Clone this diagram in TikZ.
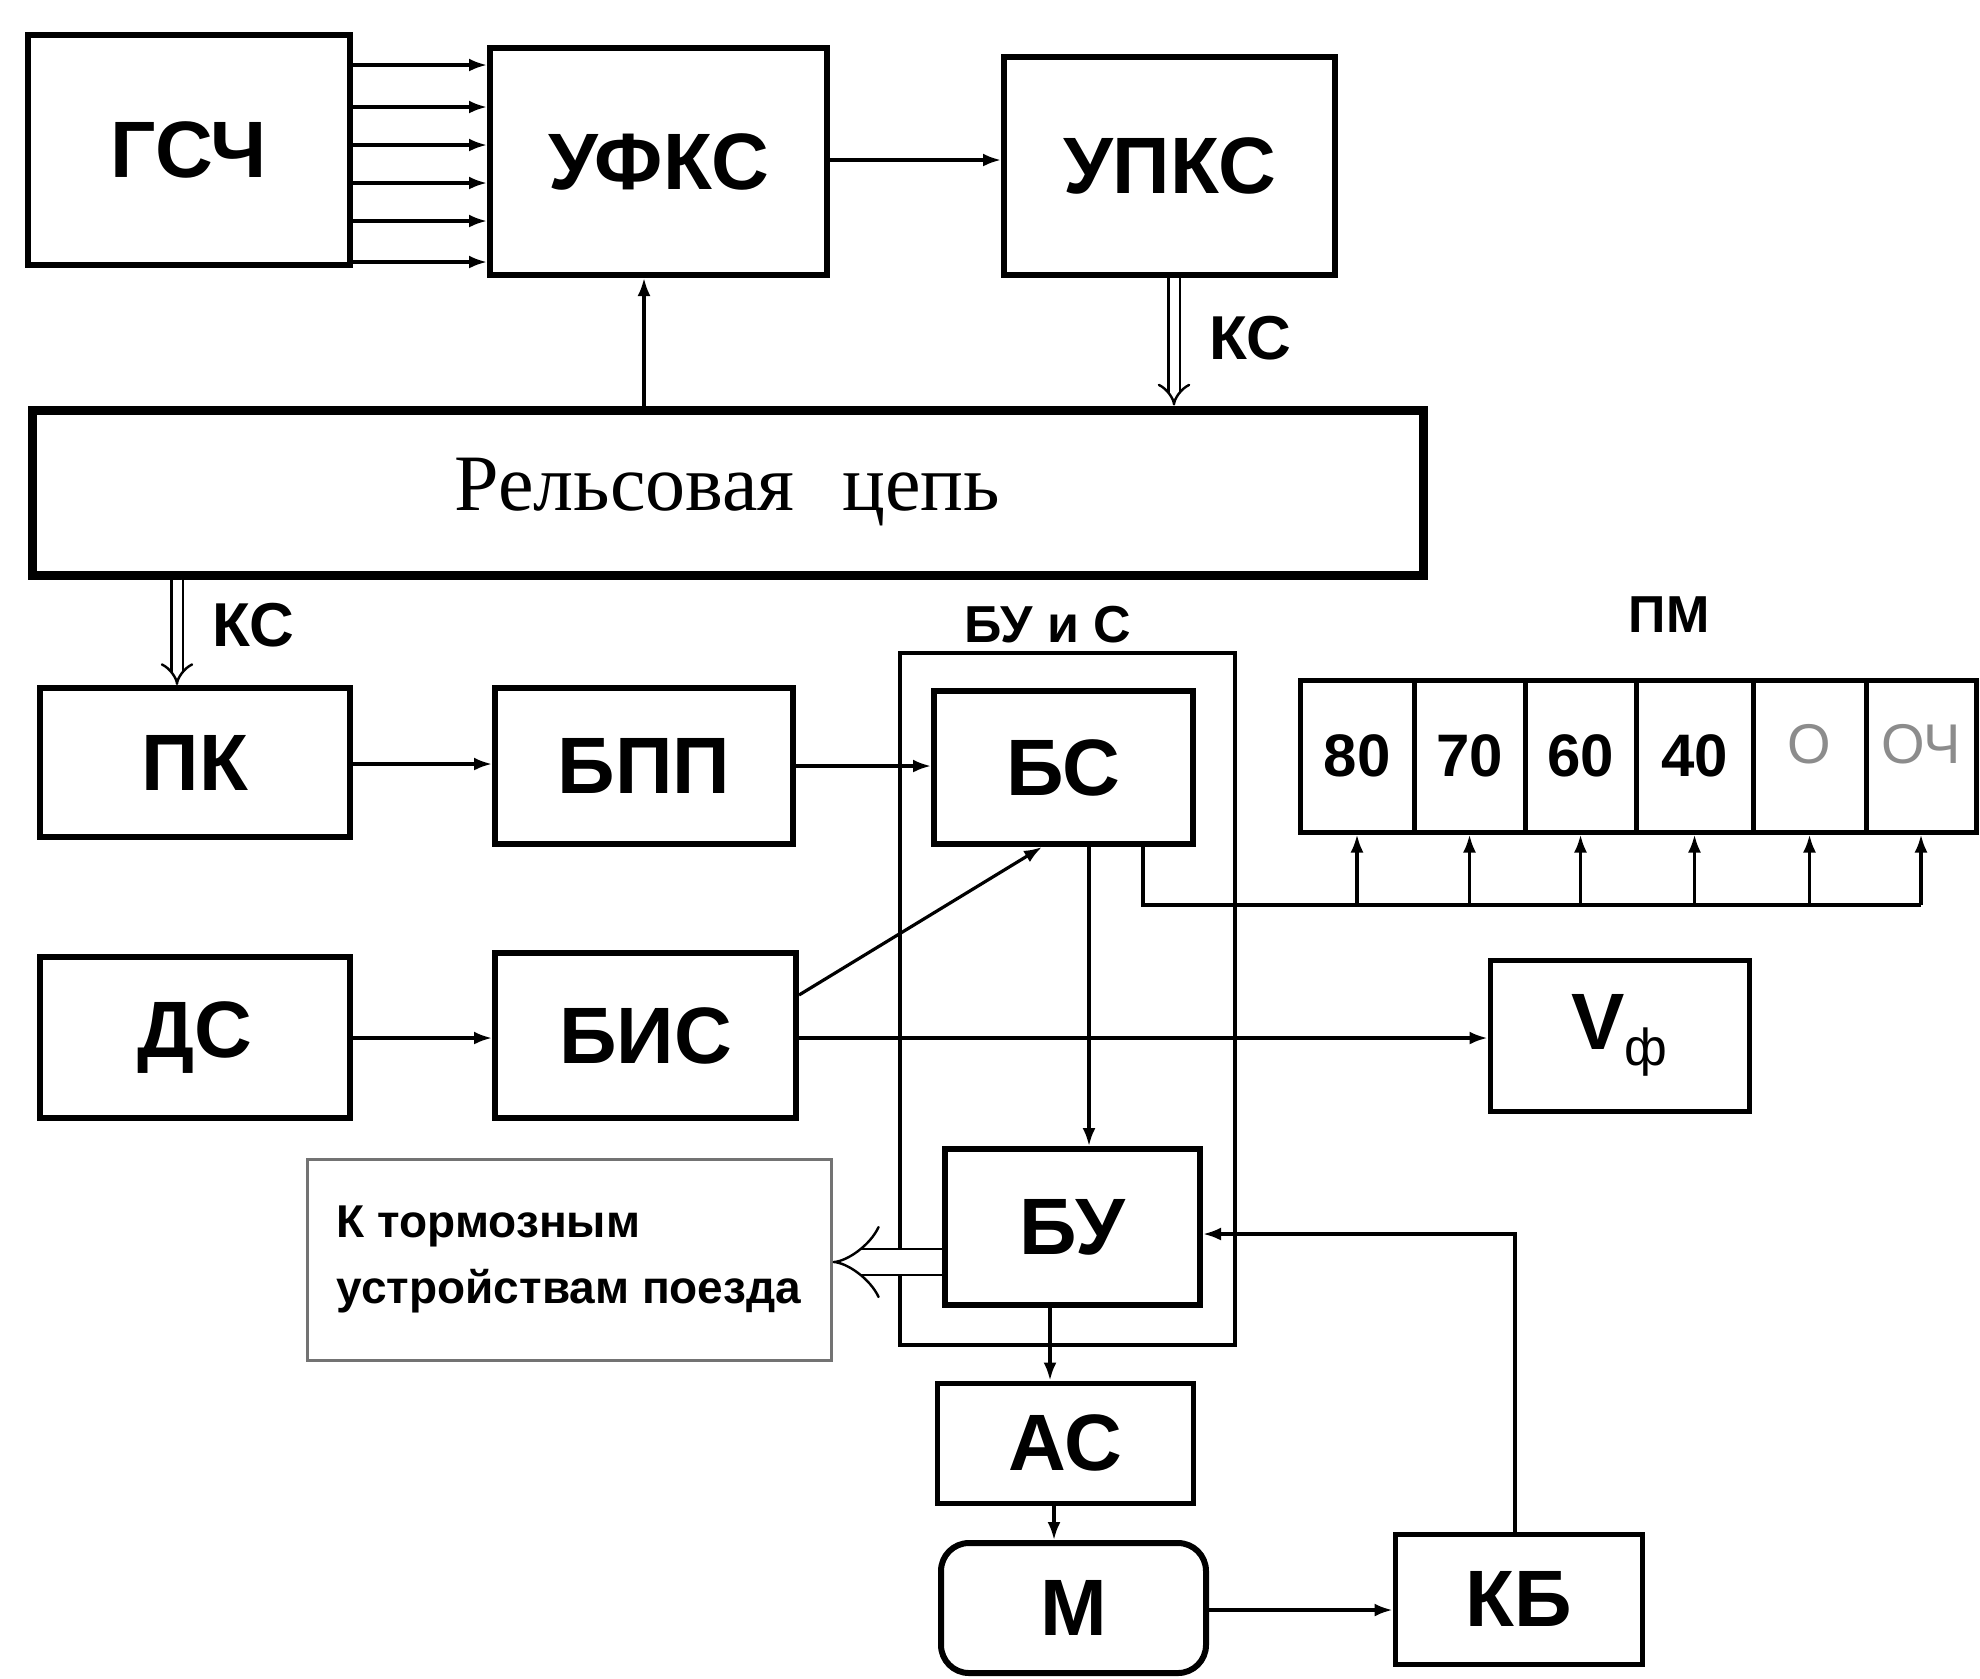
\documentclass[tikz,border=0pt]{standalone}
\usepackage{fontspec}
\setmainfont{Liberation Sans}
\newfontfamily\railfont{Liberation Serif}
\usetikzlibrary{arrows.meta}
\newcommand\mkbox[7][]{%
  \node[#1, minimum width={(#5-#3)*0.5pt}, minimum height={(#6-#4)*0.5pt}]
    (#2) at ({(#3+#5)/2},{(#4+#6)/2}) {#7};}
\begin{document}
\begin{tikzpicture}[x=0.5pt,y=-0.5pt,
  blk/.style={draw, line width=3pt, inner sep=0pt, font=\fontsize{40}{48}\selectfont\bfseries},
  cell/.style={draw, line width=2.5pt, inner sep=0pt, font=\fontsize{30}{36}\selectfont\bfseries},
  lab/.style={inner sep=0pt, font=\fontsize{31}{36}\selectfont\bfseries},
  ttl/.style={inner sep=0pt, font=\fontsize{26}{30}\selectfont\bfseries},
  arr/.style={line width=1.6pt, -{Latex[length=9pt,width=6.5pt]}},
  ln/.style={line width=1.6pt},
  dbl/.style={line width=1.2pt, double distance=4.5pt, -{Implies[length=6pt]}},
  hol/.style={line width=1.2pt, double distance=12pt, -{Implies[length=10pt]}}]
\useasboundingbox (0,0) rectangle (1980,1678);

% top row
\mkbox[blk]{gsc}{28}{35}{350}{265}{ГСЧ}
\mkbox[blk]{ufks}{490}{48}{827}{275}{УФКС}
\mkbox[blk]{upks}{1004}{57}{1335}{275}{УПКС}
\mkbox[draw, line width=4.5pt, inner sep=0pt, font=\railfont\fontsize{40}{48}\selectfont]{rail}{32}{410}{1423}{575}{Рельсовая\hspace{0.6em}цепь\hspace{60pt}}

\foreach \yy in {65,107,145,183,221,262}
  \draw[arr] (gsc.east |- 0,\yy) -- (ufks.west |- 0,\yy);
\draw[arr] (ufks.east |- 0,160) -- (upks.west |- 0,160);
\draw[arr] (rail.north -| 644,0) -- (ufks.south -| 644,0);
\draw[dbl] (upks.south -| 1174,0) -- (rail.north -| 1174,0);
\node[lab] (ks1) at (1250,338) {КС};

% second block
\mkbox[blk]{pk}{40}{688}{350}{837}{ПК}
\mkbox[blk]{bpp}{495}{688}{793}{844}{БПП}
\mkbox[draw, line width=2pt, inner sep=0pt]{buis}{900}{653}{1235}{1345}{}
\node[ttl] (buistitle) at (1048,625) {БУ и С};
\mkbox[blk]{bs}{934}{691}{1193}{844}{БС}
\draw[dbl] (rail.south -| 177,0) -- (pk.north -| 177,0);
\node[lab] (ks2) at (253,625) {КС};

\draw[arr] (pk.east |- 0,764) -- (bpp.west |- 0,764);
\draw[arr] (bpp.east |- 0,766) -- (bs.west |- 0,766);

% ПМ
\node[ttl] (pmtitle) at (1669,615) {ПМ};
\mkbox[cell]{c1}{1300}{680}{1414}{832}{80}
\mkbox[cell]{c2}{1414}{680}{1525}{832}{70}
\mkbox[cell]{c3}{1525}{680}{1636}{832}{60}
\mkbox[cell]{c4}{1636}{680}{1753}{832}{40}
\mkbox[cell, text=black!45, font=\fontsize{28}{34}\selectfont]{c5}{1753}{680}{1866}{832}{\raisebox{12pt}{О}}
\mkbox[cell, text=black!45, font=\fontsize{28}{34}\selectfont]{c6}{1866}{680}{1976}{832}{\raisebox{12pt}{ОЧ}}
\coordinate (busL) at (1143,905);
\coordinate (busR) at (c6.south |- busL);
\draw[ln] (bs.south -| busL) -- (busL) -- (busR);
\foreach \c in {c1,c2,c3,c4,c5,c6}
  \draw[arr] (\c.south |- busL) -- (\c.south);

% third block
\mkbox[blk]{ds}{40}{957}{350}{1118}{ДС}
\mkbox[blk]{bis}{495}{953}{796}{1118}{БИС}
\mkbox[blk, line width=2.5pt]{vf}{1490}{960}{1749}{1111}{V{\fontsize{26}{30}\selectfont\mdseries\raisebox{-8pt}{ф}}}
\draw[arr] (ds.east |- 0,1038) -- (bis.west |- 0,1038);
\draw[arr] (bis.east |- 0,1038) -- (vf.west |- 0,1038);
\draw[arr] (bis.east |- 0,995) -- (bs.south -| 1042,0);

% lower block
\mkbox[blk]{bu}{945}{1149}{1200}{1305}{БУ}
\mkbox[draw=black!55, line width=1.5pt, inner sep=0pt, align=left, font=\fontsize{23}{33}\selectfont\bfseries]{tb}{307}{1159}{831}{1360}{К тормозным\\устройствам поезда\hspace{10pt}}
\mkbox[blk, line width=2.5pt]{as}{937}{1383}{1193}{1503}{АС}
\mkbox[blk, line width=3pt, rounded corners=14pt]{m}{941}{1543}{1206}{1673}{М}
\mkbox[blk, line width=2.5pt]{kb}{1395}{1534}{1642}{1664}{КБ}

\draw[arr] (bs.south -| 1089,0) -- (bu.north -| 1089,0);
\draw[hol] (bu.west |- 0,1262) -- (tb.east |- 0,1262);
\draw[arr] (bu.south -| 1050,0) -- (as.north -| 1050,0);
\draw[arr] (as.south -| 1054,0) -- (m.north -| 1054,0);
\draw[arr] (m.east |- 0,1610) -- (kb.west |- 0,1610);
\draw[arr] (kb.north -| 1515,0) |- (bu.east |- 0,1234);
\end{tikzpicture}
\end{document}
